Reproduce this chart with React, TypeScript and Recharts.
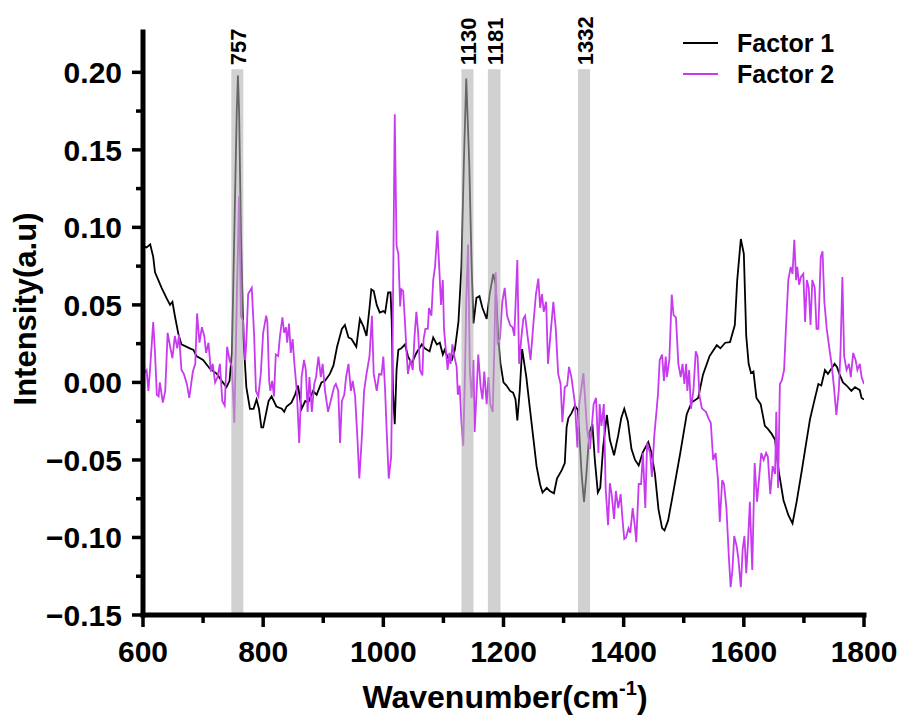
import React from 'react';
import { LineChart, Line, XAxis, YAxis, ReferenceArea, Customized } from 'recharts';

// Factor 1 spectrum: [wavenumber, intensity]
const factor1: [number, number][] = [
  [600, 0.088], [606, 0.087], [612, 0.089], [617, 0.081], [620, 0.071], [631, 0.061], [639, 0.0545],
  [645, 0.05], [649, 0.052], [653, 0.043], [659, 0.031], [664, 0.0245], [678, 0.022], [684, 0.021],
  [689, 0.017], [700, 0.0145], [711, 0.009], [723, 0.0055], [731, 0.001], [739, -0.003], [744, 0.001],
  [748, 0.019], [752, 0.097], [756, 0.174], [758, 0.198], [760, 0.174], [763, 0.097], [767, 0.03],
  [772, -0.003], [778, -0.017], [784, -0.017], [789, -0.011], [793, -0.017], [797, -0.029], [800, -0.029],
  [809, -0.012], [814, -0.009], [822, -0.0155], [831, -0.017], [835, -0.019], [839, -0.0155], [847, -0.013],
  [853, -0.008], [858, -0.002], [864, -0.017], [870, -0.012], [875, -0.013], [883, -0.0055], [889, -0.008],
  [897, 0.0], [903, 0.001], [911, 0.0055], [917, 0.011], [923, 0.023], [931, 0.0345], [936, 0.037],
  [942, 0.029], [947, 0.028], [955, 0.023], [961, 0.041], [967, 0.036], [972, 0.03], [977, 0.048],
  [980, 0.06], [984, 0.059], [989, 0.05], [994, 0.045], [1000, 0.046], [1003, 0.045], [1008, 0.058],
  [1012, 0.058], [1014, 0.039], [1016, -0.005], [1019, -0.027], [1022, 0.008], [1025, 0.021], [1030, 0.022],
  [1036, 0.0245], [1041, 0.017], [1047, 0.012], [1055, 0.019], [1064, 0.0245], [1069, 0.022], [1077, 0.02],
  [1083, 0.029], [1089, 0.0245], [1094, 0.0256], [1099, 0.018], [1102, 0.021], [1108, 0.0156], [1114, 0.0145],
  [1119, 0.021], [1125, 0.039], [1130, 0.0745], [1134, 0.141], [1138, 0.196], [1143, 0.141], [1147, 0.0745],
  [1150, 0.038], [1155, 0.0545], [1160, 0.0556], [1165, 0.048], [1172, 0.041], [1177, 0.057], [1183, 0.07],
  [1187, 0.063], [1191, 0.03], [1195, 0.012], [1200, 0.0], [1205, -0.002], [1211, -0.0055], [1216, -0.0066],
  [1220, -0.011], [1223, -0.0245], [1227, -0.0055], [1231, 0.0215], [1238, 0.0034], [1244, -0.017], [1250, -0.037],
  [1255, -0.054], [1261, -0.066], [1265, -0.071], [1272, -0.068], [1277, -0.07], [1284, -0.0715], [1289, -0.062],
  [1297, -0.0566], [1302, -0.052], [1305, -0.029], [1308, -0.023], [1313, -0.02], [1319, -0.015], [1324, -0.018],
  [1330, -0.059], [1334, -0.077], [1338, -0.059], [1343, -0.032], [1348, -0.027], [1352, -0.05], [1357, -0.071],
  [1361, -0.068], [1366, -0.041], [1372, -0.021], [1377, -0.037], [1384, -0.047], [1391, -0.034], [1396, -0.023],
  [1401, -0.017], [1407, -0.025], [1413, -0.043], [1419, -0.05], [1425, -0.0535], [1432, -0.045], [1441, -0.0385],
  [1446, -0.045], [1452, -0.059], [1458, -0.082], [1464, -0.094], [1468, -0.0955], [1474, -0.089], [1482, -0.072],
  [1494, -0.046], [1505, -0.0205], [1513, -0.013], [1524, -0.01], [1532, 0.005], [1543, 0.017], [1555, 0.024],
  [1561, 0.022], [1569, 0.0256], [1577, 0.026], [1585, 0.037], [1589, 0.066], [1595, 0.0925], [1600, 0.083],
  [1604, 0.03], [1608, 0.012], [1612, 0.006], [1616, 0.007], [1621, -0.01], [1628, -0.014], [1635, -0.028],
  [1640, -0.03], [1646, -0.033], [1652, -0.037], [1658, -0.057], [1666, -0.076], [1674, -0.0855], [1681, -0.091],
  [1688, -0.0767], [1697, -0.0556], [1702, -0.0433], [1710, -0.024], [1716, -0.014], [1724, -0.001], [1729, -0.002],
  [1735, 0.008], [1740, 0.0055], [1751, 0.012], [1755, 0.01], [1760, 0.0045], [1765, 0.0], [1771, -0.002],
  [1779, -0.0055], [1785, -0.003], [1793, -0.005], [1796, -0.01], [1800, -0.011],
];

// Factor 2 spectrum: [wavenumber, intensity]
const factor2: [number, number][] = [
  [600, 0.005], [606, 0.008], [609, -0.0055], [612, 0.01], [617, 0.039], [620, 0.019], [623, -0.008],
  [626, -0.009], [628, 0.0], [633, -0.013], [637, -0.0055], [641, 0.032], [645, 0.0234], [649, 0.0156],
  [653, 0.03], [657, 0.022], [660, 0.031], [664, 0.008], [668, 0.0055], [673, -0.001], [677, -0.01],
  [683, 0.007], [687, 0.012], [690, 0.0445], [694, 0.0256], [698, 0.0356], [702, 0.03], [705, 0.019],
  [709, 0.0256], [713, 0.007], [716, 0.012], [720, 0.0], [724, 0.0034], [728, 0.012], [732, -0.012],
  [736, -0.015], [740, 0.023], [744, 0.0145], [748, 0.01], [752, -0.026], [756, 0.052], [760, 0.12],
  [763, 0.043], [767, 0.039], [770, 0.0145], [772, 0.026], [775, 0.057], [781, 0.061], [785, 0.03],
  [788, -0.0055], [792, -0.009], [796, 0.0055], [800, 0.032], [805, 0.043], [807, 0.039], [810, 0.001],
  [812, -0.0055], [815, 0.001], [818, -0.009], [821, 0.018], [825, 0.017], [828, 0.03], [832, 0.042],
  [835, 0.032], [838, 0.0356], [840, 0.0256], [843, 0.038], [846, 0.019], [849, 0.028], [852, 0.012],
  [856, -0.0055], [860, -0.039], [864, 0.0034], [868, 0.0145], [871, 0.008], [874, -0.019], [877, 0.0034],
  [881, -0.019], [885, -0.001], [888, 0.0034], [892, 0.0167], [896, 0.0034], [899, 0.012], [903, -0.0055],
  [908, -0.019], [913, -0.011], [918, -0.003], [921, -0.001], [925, -0.0055], [928, -0.039], [931, -0.012],
  [935, -0.008], [938, 0.0034], [942, 0.012], [946, -0.0055], [949, 0.001], [953, -0.009], [957, -0.037],
  [960, -0.062], [964, -0.037], [968, -0.0055], [972, 0.0055], [977, 0.017], [981, 0.043], [984, 0.0055],
  [989, -0.0055], [993, 0.0055], [997, 0.005], [1000, 0.0167], [1003, -0.0055], [1005, -0.026], [1009, -0.062],
  [1013, -0.048], [1015, 0.008], [1019, 0.173], [1022, 0.088], [1025, 0.083], [1028, 0.049], [1030, 0.06],
  [1033, 0.059], [1036, 0.039], [1039, 0.017], [1041, 0.0055], [1045, 0.0145], [1049, 0.008], [1052, 0.03],
  [1055, 0.0455], [1058, 0.032], [1061, 0.008], [1065, 0.0045], [1067, 0.028], [1070, 0.0345], [1074, 0.0345],
  [1076, 0.048], [1080, 0.043], [1083, 0.066], [1086, 0.0745], [1090, 0.098], [1093, 0.0745], [1096, 0.05],
  [1099, 0.066], [1101, 0.0345], [1104, 0.021], [1107, 0.008], [1110, 0.019], [1112, 0.012], [1115, 0.0245],
  [1118, 0.017], [1122, 0.01], [1124, -0.008], [1127, -0.002], [1130, -0.026], [1133, -0.041], [1136, 0.008],
  [1138, 0.052], [1141, 0.089], [1144, 0.008], [1147, -0.01], [1150, 0.0145], [1152, -0.032], [1155, -0.008],
  [1158, 0.018], [1162, -0.003], [1165, -0.011], [1168, 0.007], [1172, -0.014], [1175, 0.0034], [1178, -0.014],
  [1182, -0.019], [1185, 0.0256], [1187, 0.071], [1190, 0.0256], [1194, 0.028], [1198, 0.052], [1202, 0.061],
  [1206, 0.043], [1211, 0.037], [1215, 0.0356], [1218, 0.03], [1223, 0.079], [1226, 0.012], [1230, 0.03],
  [1233, 0.041], [1236, 0.043], [1240, 0.03], [1245, 0.0145], [1250, 0.039], [1254, 0.057], [1258, 0.067],
  [1261, 0.048], [1264, 0.057], [1267, 0.0455], [1271, 0.052], [1274, 0.012], [1278, 0.03], [1283, 0.052],
  [1287, 0.0345], [1291, 0.0055], [1295, -0.001], [1298, -0.0256], [1302, -0.003], [1306, -0.002], [1309, 0.01],
  [1313, 0.0034], [1319, -0.014], [1323, -0.042], [1326, -0.014], [1333, 0.006], [1339, -0.03], [1344, -0.043],
  [1347, -0.028], [1350, -0.014], [1354, -0.01], [1358, -0.0455], [1360, -0.014], [1363, -0.028], [1367, -0.014],
  [1370, -0.068], [1374, -0.092], [1377, -0.065], [1380, -0.072], [1384, -0.088], [1387, -0.07], [1391, -0.081],
  [1395, -0.072], [1398, -0.088], [1401, -0.101], [1404, -0.1], [1408, -0.094], [1411, -0.097], [1415, -0.081],
  [1419, -0.094], [1421, -0.103], [1425, -0.0655], [1429, -0.0655], [1432, -0.0455], [1436, -0.081], [1439, -0.039],
  [1444, -0.0455], [1447, -0.061], [1451, -0.034], [1455, -0.017], [1457, -0.008], [1460, 0.0145], [1464, 0.018],
  [1467, 0.001], [1470, 0.0167], [1472, 0.0034], [1476, 0.0145], [1480, 0.0566], [1483, 0.0434], [1487, 0.042],
  [1491, 0.012], [1495, 0.0034], [1498, 0.012], [1501, -0.001], [1504, 0.012], [1506, -0.0055], [1509, 0.008],
  [1512, -0.017], [1516, -0.0055], [1520, 0.02], [1523, 0.0167], [1526, -0.008], [1530, -0.0166], [1534, -0.018],
  [1537, -0.019], [1541, -0.023], [1545, -0.026], [1549, -0.05], [1553, -0.0455], [1557, -0.063], [1560, -0.09],
  [1564, -0.063], [1567, -0.0655], [1571, -0.081], [1575, -0.112], [1578, -0.132], [1581, -0.121], [1584, -0.099],
  [1588, -0.1055], [1591, -0.114], [1595, -0.132], [1598, -0.108], [1601, -0.099], [1604, -0.123], [1607, -0.103],
  [1610, -0.077], [1614, -0.121], [1618, -0.052], [1622, -0.077], [1626, -0.059], [1629, -0.0455], [1633, -0.05],
  [1637, -0.0455], [1640, -0.048], [1644, -0.072], [1648, -0.054], [1652, -0.059], [1654, -0.019], [1657, -0.068],
  [1660, -0.001], [1663, 0.001], [1667, 0.008], [1670, 0.0345], [1674, 0.066], [1678, 0.0745], [1681, 0.07],
  [1684, 0.092], [1687, 0.066], [1689, 0.0745], [1692, 0.063], [1695, 0.068], [1699, 0.07], [1702, 0.039],
  [1705, 0.066], [1708, 0.061], [1711, 0.037], [1714, 0.066], [1718, 0.061], [1721, 0.0345], [1724, 0.0345],
  [1728, 0.081], [1731, 0.0845], [1734, 0.052], [1738, 0.0345], [1742, 0.023], [1746, 0.012], [1750, -0.003],
  [1754, -0.021], [1758, -0.0055], [1761, 0.021], [1764, 0.068], [1767, 0.0167], [1771, 0.008], [1775, 0.012],
  [1778, 0.0034], [1782, 0.019], [1786, 0.0145], [1789, 0.008], [1793, 0.012], [1796, 0.0034], [1800, -0.001],
];

// Highlighted bands: label, start, end (cm-1)
const bandLabels = ['757', '1130', '1181', '1332'];
const bandStarts = [747, 1130, 1174, 1324];
const bandEnds = [767, 1150, 1195, 1344];
const bandTop = 0.202;

const seriesNames = ['Factor 1', 'Factor 2'];
const seriesColors = ['#000000', '#c83af0'];

const xTicks = [600, 700, 800, 900, 1000, 1100, 1200, 1300, 1400, 1500, 1600, 1700, 1800];
const yTicks = [-0.15, -0.125, -0.1, -0.075, -0.05, -0.025, 0, 0.025, 0.05, 0.075, 0.1, 0.125, 0.15, 0.175, 0.2];
const xDomain = [600, 1800];
const yDomain = [-0.15, 0.226];

const FONT = "'Liberation Sans', Arial, Helvetica, sans-serif";

const data1 = factor1.map(([x, y]) => ({ x, y }));
const data2 = factor2.map(([x, y]) => ({ x, y }));

const XTick = (props: any) => {
  const { x, y, payload } = props;
  const v = payload.value;
  const major = v % 200 === 0;
  return (
    <g>
      <line x1={x} y1={y} x2={x} y2={y + (major ? 12 : 8)} stroke="#000" strokeWidth={3.5} />
      {major && (
        <text x={x} y={y + 47} textAnchor="middle" fontFamily={FONT} fontWeight="bold" fontSize={30} fill="#000">
          {v}
        </text>
      )}
    </g>
  );
};

const YTick = (props: any) => {
  const { x, y, payload } = props;
  const v = payload.value;
  const major = Math.abs(v * 20 - Math.round(v * 20)) < 1e-6;
  const label = v.toFixed(2).replace('-', '\u2212');
  return (
    <g>
      <line x1={x - (major ? 11 : 7)} y1={y} x2={x} y2={y} stroke="#000" strokeWidth={3.5} />
      {major && (
        <text x={x - 21} y={y + 11} textAnchor="end" fontFamily={FONT} fontWeight="bold" fontSize={30} fill="#000">
          {label}
        </text>
      )}
    </g>
  );
};

const BandText = (props: any) => {
  const vb = props.viewBox || {};
  const cx = vb.x + vb.width / 2 + 9;
  const y = vb.y - 4;
  return (
    <text
      x={cx}
      y={y}
      transform={`rotate(-90 ${cx} ${y})`}
      textAnchor="start"
      fill="#000"
      style={{ fontFamily: FONT, fontWeight: 'bold', fontSize: '22px' }}
    >
      {props.bandText}
    </text>
  );
};

const Decorations = () => (
  <g fontFamily={FONT} fontWeight="bold" fill="#000">
    <text x={28} y={301} transform="rotate(-90 28 301)" textAnchor="middle" fontSize={31}>
      Intensity(a.u)
    </text>
    <text x={497} y={700} textAnchor="middle" fontSize={32}>
      Wavenumber(cm
      <tspan fontSize={20} dy={-13}>-1</tspan>
      <tspan dy={13}>)</tspan>
    </text>
    {seriesNames.map((name, i) => (
      <g key={name}>
        <line x1={675} x2={710} y1={35 + i * 31} y2={35 + i * 31} stroke={seriesColors[i]} strokeWidth={2} />
        <text x={729} y={44 + i * 31} fontSize={25}>
          {name}
        </text>
      </g>
    ))}
  </g>
);

export default function App() {
  return (
    <div style={{ width: 899, height: 708, background: '#fff' }}>
      <LineChart width={899} height={708} margin={{ top: 24, right: 43, bottom: 0, left: 0 }}>
        <XAxis
          type="number"
          dataKey="x"
          domain={xDomain}
          ticks={xTicks}
          interval={0}
          allowDataOverflow
          height={101}
          tickSize={0}
          tickMargin={0}
          tickLine={false}
          axisLine={{ stroke: '#000', strokeWidth: 5, strokeLinecap: 'square' }}
          tick={<XTick />}
        />
        <YAxis
          type="number"
          domain={yDomain}
          ticks={yTicks}
          interval={0}
          allowDataOverflow
          width={135}
          tickSize={0}
          tickMargin={0}
          tickLine={false}
          axisLine={{ stroke: '#000', strokeWidth: 5, strokeLinecap: 'square' }}
          tick={<YTick />}
        />
        <Line
          data={data1}
          dataKey="y"
          name={seriesNames[0]}
          type="linear"
          stroke={seriesColors[0]}
          strokeWidth={1.8}
          dot={false}
          isAnimationActive={false}
        />
        <Line
          data={data2}
          dataKey="y"
          name={seriesNames[1]}
          type="linear"
          stroke={seriesColors[1]}
          strokeWidth={1.8}
          dot={false}
          isAnimationActive={false}
        />
        {bandLabels.map((lab, i) => (
          <ReferenceArea
            key={lab}
            x1={bandStarts[i]}
            x2={bandEnds[i]}
            y1={yDomain[0]}
            y2={bandTop}
            fill="#afafaf"
            fillOpacity={0.58}
            stroke="none"
            zIndex={450}
            label={<BandText bandText={lab} />}
          />
        ))}
        <Customized component={Decorations} />
      </LineChart>
    </div>
  );
}
